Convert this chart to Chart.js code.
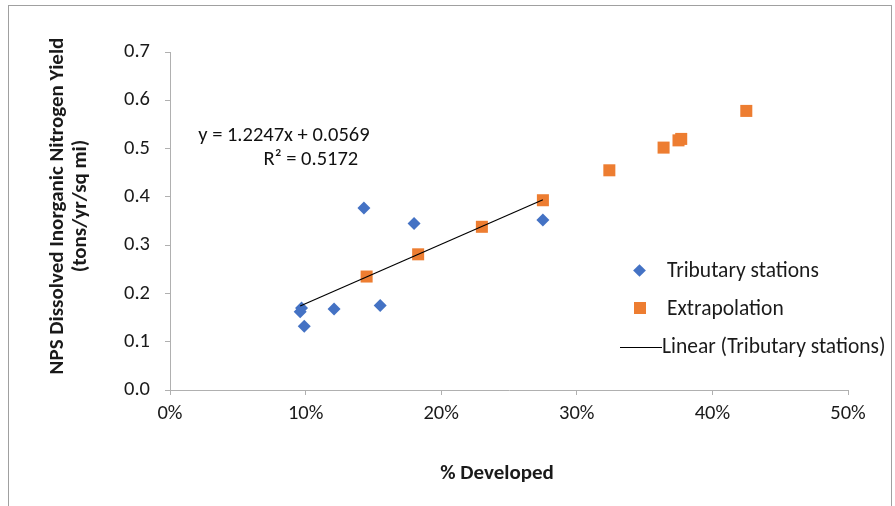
<!DOCTYPE html>
<html>
<head>
<meta charset="utf-8">
<script src="https://cdn.jsdelivr.net/npm/chart.js@4/dist/chart.umd.min.js"></script>
<style>
  html, body { margin: 0; padding: 0; background: #fff; }
  #wrap { position: relative; width: 895px; height: 506px; overflow: hidden; font-family: Carlito, Lato, sans-serif; color: #1a1a1a; }
  #frame { position: absolute; left: 8px; top: 5px; width: 884px; height: 520px; border: 1px solid #a0a0a0; box-sizing: border-box; }
  #legend { position: absolute; left: 618px; top: 256px; font-size: 21.5px; }
  .item { position: relative; height: 38px; line-height: 28px; padding-left: 49px; white-space: nowrap; }
  .sym { position: absolute; }
  .dia { left: 17px; top: 10px; width: 9px; height: 9px; background: #4472c4; transform: rotate(45deg); }
  .sq { left: 16px; top: 8px; width: 12px; height: 12px; background: #ed7d31; }
  .ln { left: 2px; top: 15px; width: 42px; height: 1px; background: #000; }
  #ytitle { position: absolute; left: 68px; top: 206px; width: 420px; transform: translate(-50%, -50%) rotate(-90deg);
            text-align: center; font-weight: bold; font-size: 21px; line-height: 23px; white-space: nowrap; }
  #xtitle { position: absolute; left: 497px; top: 472px; transform: translate(-50%, -50%);
            font-weight: bold; font-size: 21px; white-space: nowrap; }
</style>
</head>
<body>
<div id="wrap">
  <canvas id="chart" width="895" height="506"></canvas>
  <div id="frame"></div>
  <div id="ytitle">NPS Dissolved Inorganic Nitrogen Yield<br>(tons/yr/sq mi)</div>
  <div id="xtitle">% Developed</div>
  <div id="legend">
    <div class="item"><span class="sym dia"></span>Tributary stations</div>
    <div class="item"><span class="sym sq"></span>Extrapolation</div>
    <div class="item" style="padding-left:44px"><span class="sym ln"></span>Linear (Tributary stations)</div>
  </div>
</div>
<script>
// Tributary stations (fraction developed, tons/yr/sq mi)
const tribX = [0.097, 0.096, 0.099, 0.121, 0.143, 0.155, 0.180, 0.275];
const tribY = [0.170, 0.162, 0.132, 0.168, 0.377, 0.175, 0.345, 0.352];

// Extrapolation points
const extX = [0.145, 0.183, 0.230, 0.275, 0.324, 0.364, 0.375, 0.377, 0.425];
const extY = [0.235, 0.281, 0.338, 0.393, 0.455, 0.502, 0.517, 0.520, 0.578];

// Linear trend endpoints (as drawn in the picture)
const trendX = [0.096, 0.275];
const trendY = [0.174, 0.394];

const eqLines = ['y = 1.2247x + 0.0569', 'R² = 0.5172'];

const FONT = 'Carlito, Lato, sans-serif';
const AXIS = '#b0b0b0';

function toPoints(xs, ys) {
    return xs.map((x, i) => ({ x: x, y: ys[i] }));
}

// draws the trendline equation inside the plot
const equationPlugin = {
    id: 'equation',
    afterDatasetsDraw(chart) {
        const { ctx, scales } = chart;
        const cx = scales.x.getPixelForValue(0.084);
        const cy = scales.y.getPixelForValue(0.526);
        ctx.save();
        ctx.font = '20.5px ' + FONT;
        ctx.fillStyle = '#111';
        ctx.textAlign = 'center';
        ctx.textBaseline = 'middle';
        ctx.fillText(eqLines[0], cx, cy);
        ctx.fillText(eqLines[1], cx + 27, cy + 24);
        ctx.restore();
    }
};

new Chart(document.getElementById('chart'), {
    type: 'scatter',
    data: {
        datasets: [
            {
                label: 'Linear (Tributary stations)',
                type: 'line',
                data: toPoints(trendX, trendY),
                borderColor: '#000',
                borderWidth: 1.2,
                pointRadius: 0,
                fill: false,
                order: 0
            },
            {
                label: 'Tributary stations',
                data: toPoints(tribX, tribY),
                pointStyle: 'rectRot',
                pointRadius: 6.5,
                pointHoverRadius: 6.5,
                backgroundColor: '#4472c4',
                borderColor: '#4472c4',
                borderWidth: 0,
                order: 1
            },
            {
                label: 'Extrapolation',
                data: toPoints(extX, extY),
                pointStyle: 'rect',
                pointRadius: 8.5,
                pointHoverRadius: 8.5,
                backgroundColor: '#ed7d31',
                borderColor: '#ed7d31',
                borderWidth: 0,
                order: 2
            }
        ]
    },
    options: {
        responsive: false,
        animation: false,
        layout: { padding: { left: 0, right: 47, top: 52, bottom: 0 } },
        plugins: {
            legend: { display: false },
            tooltip: { enabled: false }
        },
        scales: {
            x: {
                type: 'linear',
                min: 0,
                max: 0.5,
                afterFit(scale) { scale.height = 116; },
                ticks: {
                    stepSize: 0.1,
                    padding: 7,
                    color: '#1a1a1a',
                    font: { family: FONT, size: 20.5 },
                    callback: v => Math.round(v * 100) + '%'
                },
                grid: { drawOnChartArea: false, color: AXIS, tickLength: 5 },
                border: { color: AXIS }
            },
            y: {
                min: 0,
                max: 0.7,
                afterFit(scale) { scale.width = 170; },
                ticks: {
                    stepSize: 0.1,
                    padding: 15,
                    color: '#1a1a1a',
                    font: { family: FONT, size: 20.5 },
                    callback: v => v.toFixed(1)
                },
                grid: { drawOnChartArea: false, color: AXIS, tickLength: 5 },
                border: { color: AXIS }
            }
        }
    },
    plugins: [equationPlugin]
});
</script>
</body>
</html>
